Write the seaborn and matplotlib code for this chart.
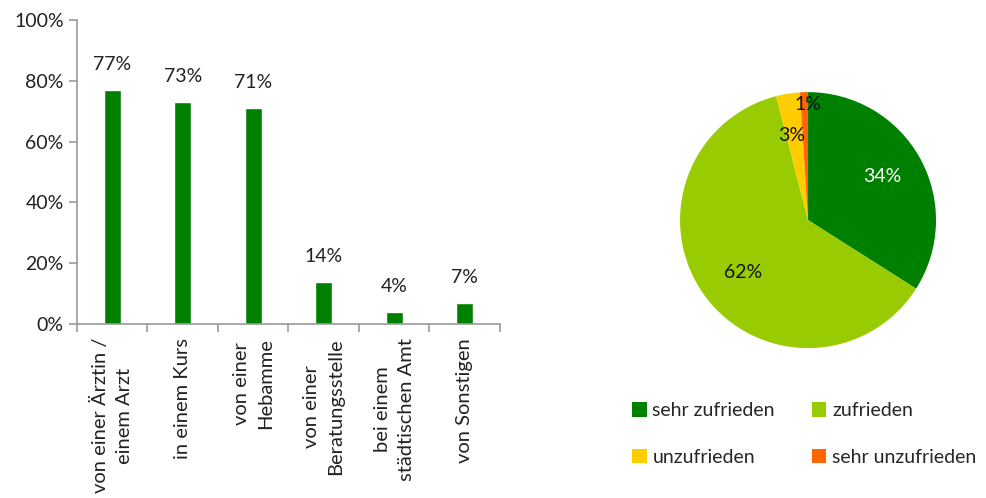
import matplotlib
matplotlib.use("Agg")
import matplotlib.pyplot as plt
import seaborn as sns
import pandas as pd

# Daten
kategorien = ["von einer Ärztin /\neinem Arzt", "in einem Kurs", "von einer\nHebamme",
              "von einer\nBeratungsstelle", "bei einem\nstädtischen Amt", "von Sonstigen"]
anteile = [77, 73, 71, 14, 4, 7]

zufriedenheit = ["sehr zufrieden", "zufrieden", "unzufrieden", "sehr unzufrieden"]
zufriedenheit_werte = [34, 62, 3, 1]
farben_pie = ["#008000", "#99CC00", "#FFCC00", "#FF6600"]

sns.set_style("white")
plt.rcParams['font.family'] = ['Lato', 'DejaVu Sans']
plt.rcParams['font.size'] = 14

fig = plt.figure(figsize=(9.86, 4.98), dpi=100)

# Balkendiagramm
ax = fig.add_axes([0.078, 0.349, 0.429, 0.611])
df = pd.DataFrame({"kat": kategorien, "wert": anteile})
sns.barplot(data=df, x="kat", y="wert", color="#008000", width=0.24, saturation=1, ax=ax)
ax.set_ylim(0, 100)
ax.set_xlim(-0.5, len(kategorien) - 0.5)
ax.set_yticks(range(0, 101, 20))
ax.set_yticklabels([f"{v}%" for v in range(0, 101, 20)], fontsize=14, color="#222222")
ax.set_xlabel("")
ax.set_ylabel("")
ax.set_xticks([i - 0.5 for i in range(len(kategorien) + 1)])
ax.set_xticklabels([])
for i, k in enumerate(kategorien):
    ax.text(i, -0.045, k, rotation=90, ha="center", va="top", fontsize=14.5,
            transform=ax.get_xaxis_transform(), color="#222222", linespacing=1.5)
for i, v in enumerate(anteile):
    ax.annotate(f"{v}%", (i, v), xytext=(0, 12), textcoords="offset points",
                ha="center", va="bottom", fontsize=14, color="#222222")
sns.despine(ax=ax, top=True, right=True)
for s in ["left", "bottom"]:
    ax.spines[s].set_color("#999999")
    ax.spines[s].set_linewidth(1.2)
ax.tick_params(axis="both", which="both", direction="out", length=6, color="#999999",
               left=True, bottom=True, width=1.2)

# Kreisdiagramm
ax2 = fig.add_axes([0.6895, 0.301, 0.26, 0.514])
keile, texte = ax2.pie(zufriedenheit_werte, colors=farben_pie, startangle=90, counterclock=False,
                       wedgeprops=dict(linewidth=0))
ax2.set_xlim(-1, 1)
ax2.set_ylim(-1, 1)
ax2.set_aspect("equal")
label_pos = [(0.58, 0.34), (-0.51, -0.41), (-0.13, 0.66), (0.0, 0.9)]
label_col = ["white", "#111111", "#111111", "#111111"]
for v, (x, y), c in zip(zufriedenheit_werte, label_pos, label_col):
    ax2.text(x, y, f"{v}%", ha="center", va="center", fontsize=14, color=c)

# Legende zeilenweise
reihenfolge = [0, 2, 1, 3]
fig.legend([keile[i] for i in reihenfolge], [zufriedenheit[i] for i in reihenfolge],
           loc="upper left", bbox_to_anchor=(0.641, 0.192), ncol=2,
           frameon=False, fontsize=14, handlelength=0.75, handleheight=0.75, handletextpad=0.3,
           columnspacing=1.9, labelspacing=1.5, borderpad=0, borderaxespad=0)

fig.savefig("out.png", dpi=100)
